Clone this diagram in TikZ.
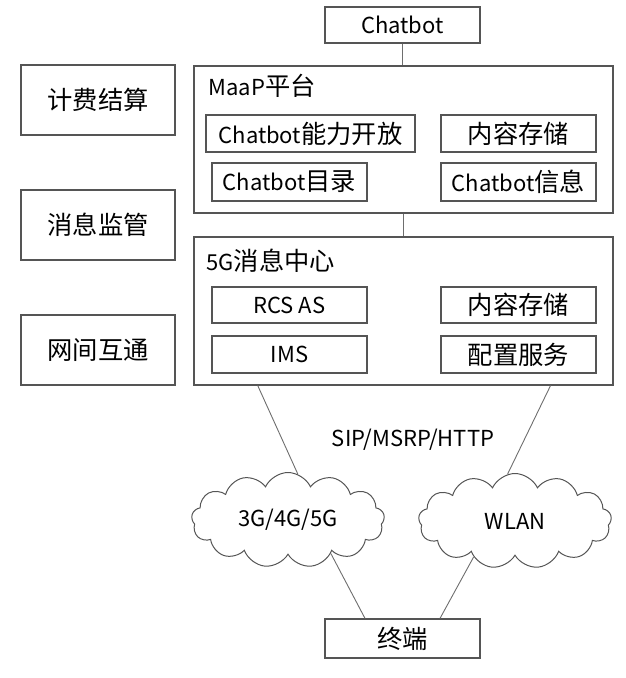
\documentclass[tikz,border=0pt]{standalone}
\usepackage{fontspec}
\setmainfont{Noto Sans CJK SC}
\newfontfamily\cjk[Scale=1.15]{Noto Sans CJK SC}
\usetikzlibrary{shapes.symbols, calc}
\definecolor{BoxGray}{RGB}{85,85,85}
\definecolor{LinkGray}{RGB}{110,110,110}

\begin{document}
\begin{tikzpicture}[x=1pt, y=-1pt, font=\fontsize{22}{26}\selectfont,
	box/.style={draw=BoxGray, line width=1.1pt, inner sep=0pt, minimum width=155pt, minimum height=37pt},
	frame/.style={draw=BoxGray, line width=1.1pt, inner sep=0pt, minimum width=419pt, minimum height=147pt},
	net/.style={cloud, cloud puffs=13, cloud puff arc=130, aspect=2, draw=BoxGray, line width=1pt,
		minimum width=193pt, minimum height=95pt, inner sep=0pt},
	link/.style={LinkGray, line width=0.9pt}]
	\useasboundingbox (0,0) rectangle (626,678);

	% top: Chatbot
	\node[box, minimum height=36pt] (chatbot) at (402.5,25) {Chatbot};

	% MaaP platform
	\node[frame] (maap) at (403.5,139.5) {};
	\node[anchor=west] (maapT) at (205,86) {MaaP{\cjk 平台}};
	\node[box, minimum width=209pt] (open) at (310.5,133.5) {Chatbot{\cjk 能力开放}};
	\node[box] (store1) at (518.5,133.5) {\cjk 内容存储};
	\node[box, minimum height=38pt] (dir) at (289.5,182) {Chatbot{\cjk 目录}};
	\node[box, minimum height=38pt] (info) at (518.5,182) {Chatbot{\cjk 信息}};

	% 5G message center
	\node[frame, minimum height=148pt] (msg) at (403.5,311) {};
	\node[anchor=west] (msgT) at (203,261) {5G{\cjk 消息中心}};
	\node[box, minimum height=36pt] (rcs) at (289.5,305) {RCS AS};
	\node[box, minimum height=36pt] (store2) at (518.5,305) {\cjk 内容存储};
	\node[box] (ims) at (289.5,354.5) {IMS};
	\node[box] (conf) at (518.5,354.5) {\cjk 配置服务};

	% side functions
	\node[box, minimum width=154pt, minimum height=70pt] (bill) at (98,100) {\cjk 计费结算};
	\node[box, minimum width=154pt, minimum height=70pt] (reg) at (98,225) {\cjk 消息监管};
	\node[box, minimum width=154pt, minimum height=70pt] (inter) at (98,350) {\cjk 网间互通};

	% access networks
	\node (proto) at (413,440) {SIP/MSRP/HTTP};
	\node[net] (mob) at (288,520) {3G/4G/5G};
	\node[net] (wlan) at (515,521) {WLAN};
	\node[box, minimum height=39pt] (term) at (402.5,638.5) {\cjk 终端};

	% links
	\draw[link] (chatbot.south) -- (chatbot.south |- maap.north);
	\draw[link] (maap.south) -- (maap.south |- msg.north);
	\draw[link] ($(msg.south west)!0.153!(msg.south east)$) -- (mob.78);
	\draw[link] ($(msg.south west)!0.85!(msg.south east)$) -- (wlan.99);
	\draw[link] (mob.-38) -- ($(term.north west)!0.26!(term.north east)$);
	\draw[link] (wlan.-139) -- ($(term.north west)!0.74!(term.north east)$);
\end{tikzpicture}
\end{document}
